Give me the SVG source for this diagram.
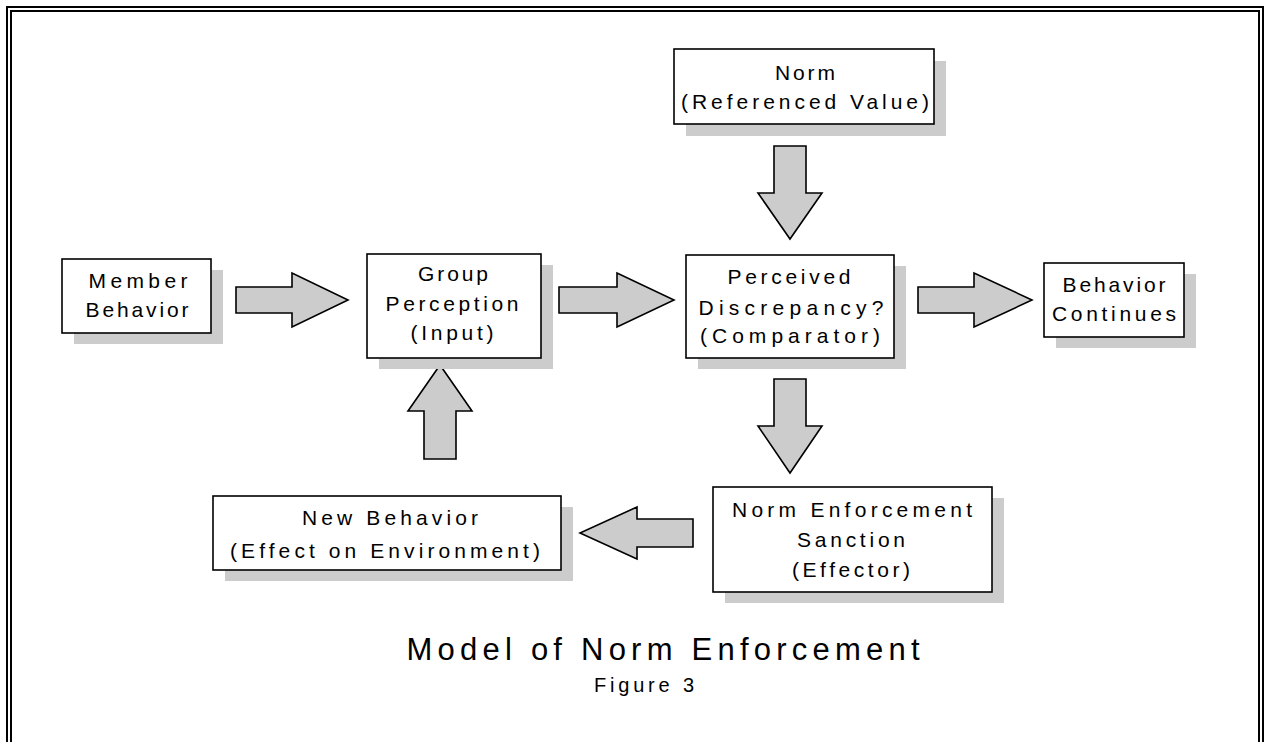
<svg xmlns="http://www.w3.org/2000/svg" width="1264" height="742" viewBox="0 0 1264 742">
<style>
.box{fill:#fff;stroke:#000;stroke-width:1.6}
.sh{fill:#cccccc}
.t{font-family:"Liberation Sans",Arial,sans-serif;font-size:21px;text-anchor:middle;fill:#000}
.arr{fill:#cccccc;stroke:#000;stroke-width:1.6;stroke-linejoin:miter}
.frame{fill:none;stroke:#000;stroke-width:2}
</style>
<rect width="1264" height="742" fill="#fff"/>
<path class="frame" d="M7,742 V7 H1263 V742"/>
<path class="frame" d="M11,742 V11 H1259 V742"/>

<g id="connectors">
<path class="arr" d="M236,287 H292 V273 L348,300 L292,327 V313 H236 Z"/>
<path class="arr" d="M559,287 H617 V273 L674,300 L617,327 V313 H559 Z"/>
<path class="arr" d="M918,287 H974 V273 L1032,300 L974,327 V313 H918 Z"/>
<path class="arr" d="M774,146 H806 V193 H822 L790,239 L758,193 H774 Z"/>
<path class="arr" d="M774,379 H806 V426 H822 L790,473 L758,426 H774 Z"/>
<path class="arr" d="M693,519 H637 V507 L580,533 L637,559 V547 H693 Z"/>
<path class="arr" d="M424,459 V411 H408 L440,365 L472,411 H456 V459 Z"/>
</g>

<g id="norm">
<rect class="sh" x="686" y="61" width="260" height="75"/>
<rect class="box" x="674" y="49" width="260" height="75"/>
<text class="t" x="805" y="80" textLength="60" lengthAdjust="spacing">Norm</text>
<text class="t" x="805" y="109" textLength="248" lengthAdjust="spacing">(Referenced Value)</text>
</g>

<g id="member">
<rect class="sh" x="74" y="270" width="149" height="74"/>
<rect class="box" x="62" y="259" width="149" height="74"/>
<text class="t" x="138" y="288" textLength="99" lengthAdjust="spacing">Member</text>
<text class="t" x="137" y="317" textLength="103" lengthAdjust="spacing">Behavior</text>
</g>

<g id="group">
<rect class="sh" x="379" y="265" width="174" height="104"/>
<rect class="box" x="367" y="254" width="174" height="104"/>
<text class="t" x="453" y="281" textLength="70" lengthAdjust="spacing">Group</text>
<text class="t" x="452" y="311" textLength="133" lengthAdjust="spacing">Perception</text>
<text class="t" x="452" y="340" textLength="83" lengthAdjust="spacing">(Input)</text>
</g>

<g id="perceived">
<rect class="sh" x="698" y="266" width="208" height="103"/>
<rect class="box" x="686" y="255" width="208" height="103"/>
<text class="t" x="789" y="284" textLength="123" lengthAdjust="spacing">Perceived</text>
<text class="t" x="791" y="315" textLength="185" lengthAdjust="spacing">Discrepancy?</text>
<text class="t" x="790" y="343" textLength="180" lengthAdjust="spacing">(Comparator)</text>
</g>

<g id="continues">
<rect class="sh" x="1056" y="274" width="140" height="74"/>
<rect class="box" x="1044" y="263" width="140" height="74"/>
<text class="t" x="1114" y="292" textLength="103" lengthAdjust="spacing">Behavior</text>
<text class="t" x="1114" y="321" textLength="124" lengthAdjust="spacing">Continues</text>
</g>

<g id="effector">
<rect class="sh" x="725" y="498" width="279" height="105"/>
<rect class="box" x="713" y="487" width="279" height="105"/>
<text class="t" x="852" y="517" textLength="240" lengthAdjust="spacing">Norm Enforcement</text>
<text class="t" x="851" y="547" textLength="108" lengthAdjust="spacing">Sanction</text>
<text class="t" x="851" y="577" textLength="118" lengthAdjust="spacing">(Effector)</text>
</g>

<g id="newbehavior">
<rect class="sh" x="225" y="507" width="348" height="74"/>
<rect class="box" x="213" y="496" width="348" height="74"/>
<text class="t" x="390" y="525" textLength="176" lengthAdjust="spacing">New Behavior</text>
<text class="t" x="385" y="558" textLength="310" lengthAdjust="spacing">(Effect on Environment)</text>
</g>

<g id="title">
<text class="t" x="663" y="660" style="font-size:31px" textLength="513" lengthAdjust="spacing">Model of Norm Enforcement</text>
<text class="t" x="644" y="692" style="font-size:20px" textLength="100" lengthAdjust="spacing">Figure 3</text>
</g>
</svg>
